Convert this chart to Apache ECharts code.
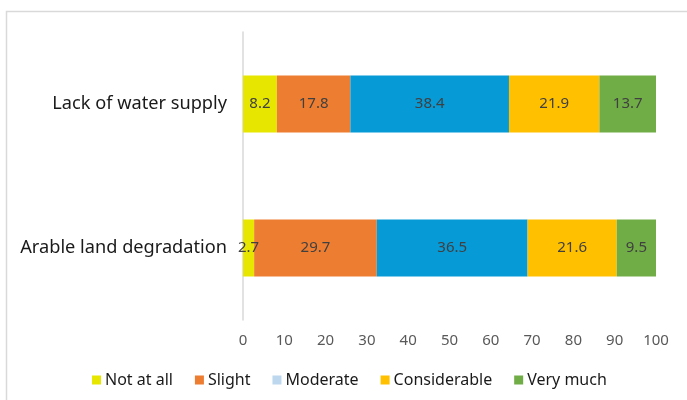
<!DOCTYPE html>
<html>
<head>
<meta charset="utf-8">
<script src="https://cdn.jsdelivr.net/npm/echarts@6/dist/echarts.min.js"></script>
<style>html,body{margin:0;padding:0;background:#fff;}#c{width:687px;height:400px;}</style>
</head>
<body>
<div id="c"></div>
<script>
const categories = ['Lack of water supply', 'Arable land degradation'];
const seriesNames = ['Not at all', 'Slight', 'Moderate', 'Considerable', 'Very much'];
const notAtAll = [8.2, 2.7];
const slight = [17.8, 29.7];
const moderate = [38.4, 36.5];
const considerable = [21.9, 21.6];
const veryMuch = [13.7, 9.5];
const xTicks = [0, 10, 20, 30, 40, 50, 60, 70, 80, 90, 100];

const values = [notAtAll, slight, moderate, considerable, veryMuch];
const barColors = ['#E6E600', '#ED7D31', '#069AD7', '#FFC000', '#70AD47'];
const legendColors = ['#E6E600', '#ED7D31', '#BDD7EE', '#FFC000', '#70AD47'];

const chart = echarts.init(document.getElementById('c'));
chart.setOption({
  animation: false,
  textStyle: { fontFamily: 'Noto Sans' },
  graphic: [{
    type: 'rect', silent: true,
    shape: { x: 6.5, y: 11.5, width: 720, height: 420 },
    style: { fill: 'none', stroke: '#d9d9d9', lineWidth: 1.5 }
  }],
  grid: { left: 243, right: 31, top: 32, bottom: 80, containLabel: false },
  legend: {
    top: 372,
    left: 92,
    padding: 0,
    itemWidth: 9, itemHeight: 9, itemGap: 22,
    icon: 'rect',
    textStyle: { fontSize: 16, color: '#1a1a1a', padding: [0, 0, 0, -1] },
    data: seriesNames.map((n, i) => ({ name: n, itemStyle: { color: legendColors[i] } }))
  },
  xAxis: {
    type: 'value', min: 0, max: 100, interval: 10,
    axisLine: { show: false }, axisTick: { show: false },
    splitLine: { show: false },
    axisLabel: { fontSize: 15, color: '#595959', margin: 13,
      formatter: v => xTicks.includes(v) ? String(v) : '' }
  },
  yAxis: {
    type: 'category', data: categories, inverse: true,
    axisLine: { show: true, lineStyle: { color: '#d9d9d9', width: 1.5 } },
    axisTick: { show: false },
    axisLabel: { fontSize: 18.2, color: '#1a1a1a', margin: 16 }
  },
  series: seriesNames.map((n, i) => ({
    name: n, type: 'bar', stack: 'total', barWidth: 57,
    itemStyle: { color: barColors[i] },
    label: { show: true, position: 'inside', fontSize: 15, color: '#404040',
      formatter: p => p.value.toFixed(1) },
    data: values[i]
  }))
});
</script>
</body>
</html>
